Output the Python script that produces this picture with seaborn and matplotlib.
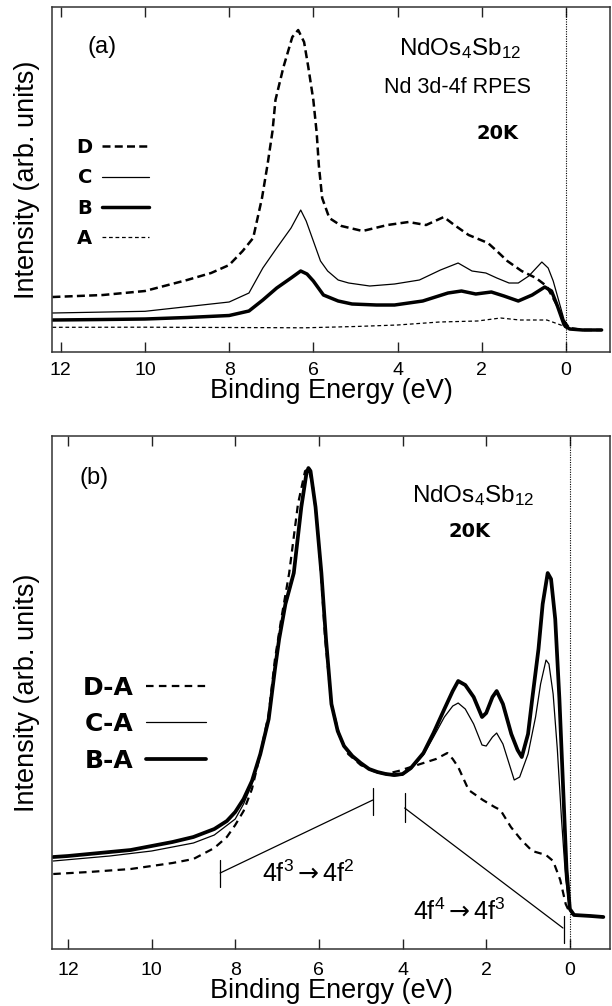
import matplotlib
matplotlib.use("Agg")
import matplotlib.pyplot as plt
from matplotlib.lines import Line2D
import seaborn as sns
import pandas as pd

# ---------------- data: panel (a) ----------------
A_x = [12.2, 10.0, 8.0, 6.2, 5.0, 4.0, 3.0, 2.1, 1.55, 1.1, 0.45, 0.12, -0.04, -0.3, -0.85]
A_y = [24.7, 24.8, 24.5, 24.2, 25.5, 27, 30, 31, 34, 32, 32, 27, 23, 22, 22]

B_x = [12.2, 11, 10, 9, 8, 7.53, 7.2, 6.87, 6.53, 6.3, 6.15, 6.0, 5.76, 5.41, 5.08, 4.5, 4.07, 3.4,
       2.8, 2.48, 2.14, 1.77, 1.47, 1.13, 0.8, 0.5, 0.34, 0.2, 0.04, -0.09, -0.4, -0.85]
B_y = [32, 32.5, 33, 34.5, 36.5, 41, 52, 64, 74, 81, 78, 71, 57, 51, 48, 47, 47, 51,
       59, 61, 58, 60, 56, 51, 57, 65, 61, 46, 27, 23, 22, 22]

C_x = [12.2, 10, 8, 7.53, 7.2, 6.87, 6.53, 6.3, 6.17, 6.0, 5.83, 5.66, 5.41, 5.16, 4.66, 4.07, 3.48,
       2.98, 2.56, 2.23, 1.9, 1.64, 1.35, 1.13, 0.88, 0.57, 0.42, 0.3, 0.12, 0.0, -0.13, -0.4, -0.85]
C_y = [39, 40.7, 50, 59, 84, 104, 124, 142, 131, 111, 91, 81, 72, 69, 66, 68, 72,
       82, 89, 81, 79, 74, 69, 69, 76, 90, 84, 71, 44, 26, 23, 22, 22]

D_x = [12.2, 11.0, 10.0, 9.0, 8.43, 8.0, 7.68, 7.43, 7.22, 7.09, 6.97, 6.9, 6.71, 6.5, 6.36, 6.22,
       6.12, 6.0, 5.92, 5.87, 5.79, 5.62, 5.33, 4.83, 4.24, 3.74, 3.32, 2.9, 2.65, 2.31, 1.85, 1.64,
       1.39, 1.05, 0.71, 0.46, 0.21, 0.04, -0.08, -0.4, -0.85]
D_y = [55, 57, 61, 72, 79, 87, 101, 114, 154, 187, 221, 252, 285, 315, 322, 310,
       285, 252, 219, 187, 154, 134, 126, 121, 127, 130, 127, 135, 127, 117, 109, 101,
       91, 81, 74, 66, 47, 31, 24, 22, 22]

# ---------------- data: panel (b) ----------------
BA_x = [12.35, 12, 11.5, 11, 10.5, 10, 9.5, 9, 8.5, 8.2, 8.0, 7.8, 7.6, 7.4, 7.2, 7.05, 6.95, 6.8,
        6.6, 6.42, 6.3, 6.25, 6.2, 6.08, 5.94, 5.83, 5.7, 5.55, 5.4, 5.2, 5.0, 4.8, 4.6, 4.4, 4.2,
        4.0, 3.8, 3.5, 3.26, 3.0, 2.8, 2.67, 2.5, 2.3, 2.1, 2.0, 1.85, 1.75, 1.6, 1.4, 1.25, 1.15,
        1.0, 0.9, 0.75, 0.65, 0.53, 0.45, 0.35, 0.25, 0.15, 0.08, 0.0, -0.1, -0.5, -0.8]
BA_y = [92, 93, 95, 97, 99, 103, 107, 112, 120, 128, 137, 150, 168, 195, 230, 280, 310, 345,
        376, 442, 475, 481, 478, 442, 376, 310, 245, 218, 203, 193, 186, 180, 177, 175, 174,
        175, 181, 196, 216, 240, 258, 268, 264, 252, 232, 236, 252, 258, 245, 215, 199, 192,
        215, 250, 300, 345, 376, 370, 330, 250, 150, 80, 40, 34, 33, 32]

CA_x = [12.35, 11, 10, 9, 8.5, 8.0, 7.8, 7.6, 7.4, 7.2, 7.05, 6.95, 6.8, 6.6, 6.42, 6.3, 6.25, 6.2,
        6.08, 5.94, 5.83, 5.7, 5.55, 5.4, 5.2, 5.0, 4.6, 4.2, 4.0, 3.8, 3.5, 3.26, 3.0, 2.8, 2.67,
        2.5, 2.3, 2.1, 2.0, 1.85, 1.75, 1.6, 1.45, 1.33, 1.2, 1.0, 0.82, 0.7, 0.57, 0.5, 0.4, 0.3,
        0.2, 0.1, 0.0, -0.1, -0.5, -0.8]
CA_y = [88, 93, 98, 106, 114, 130, 145, 165, 193, 228, 278, 308, 343, 374, 440, 473, 478, 476,
        440, 374, 308, 243, 216, 202, 192, 185, 176, 173, 174, 180, 194, 212, 232, 243, 246,
        240, 225, 204, 203, 212, 216, 205, 185, 169, 172, 195, 232, 265, 289, 285, 255, 200,
        130, 70, 38, 34, 33, 32]

DA_x = [12.35, 11.5, 10.5, 10, 9.5, 9, 8.5, 8.2, 8.0, 7.8, 7.6, 7.4, 7.2, 7.05, 6.9, 6.71, 6.5,
        6.33, 6.25, 6.15, 6.05, 5.95, 5.85, 5.7, 5.5, 5.3, 5.0, 4.7, 4.4, 4.1, 3.8, 3.5, 3.2, 2.93,
        2.8, 2.67, 2.42, 2.08, 1.8, 1.66, 1.41, 1.16, 0.9, 0.57, 0.4, 0.23, 0.1, 0.0, -0.1, -0.5,
        -0.8]
DA_y = [75, 77, 80, 83, 86, 90, 101, 112, 124, 138, 160, 195, 235, 290, 330, 376, 445,
        478, 480, 465, 430, 376, 310, 245, 212, 195, 184, 178, 175, 178, 182, 186, 190, 196,
        190, 182, 159, 149, 142, 139, 122, 109, 98, 94, 88, 69, 45, 36, 34, 33, 32]

xticks = [12, 10, 8, 6, 4, 2, 0]
legend_a = ["D", "C", "B", "A"]
legend_b = ["D-A", "C-A", "B-A"]

# ---------------- style ----------------
sns.set_style("ticks")
plt.rcParams["font.family"] = ["Liberation Sans", "DejaVu Sans"]
plt.rcParams["text.color"] = "black"
plt.rcParams["axes.labelcolor"] = "black"
plt.rcParams["xtick.color"] = "black"
plt.rcParams["xtick.labelcolor"] = "black"
plt.rcParams["mathtext.fontset"] = "custom"
plt.rcParams["mathtext.rm"] = "Liberation Sans"
plt.rcParams["mathtext.it"] = "Liberation Sans:italic"
plt.rcParams["mathtext.bf"] = "Liberation Sans:bold"
plt.rcParams["mathtext.sf"] = "DejaVu Sans"
plt.rcParams["mathtext.default"] = "regular"

fig = plt.figure(figsize=(6.12, 10.06), dpi=100)
ax1 = fig.add_axes([0.08497, 0.6501, 0.9118, 0.3429])
ax2 = fig.add_axes([0.08497, 0.05666, 0.9118, 0.5099])

styles_a = {
    "D": dict(lw=1.8, linestyle=(0, (3.2, 1.7))),
    "C": dict(lw=0.9, linestyle="-"),
    "B": dict(lw=2.5, linestyle="-"),
    "A": dict(lw=0.9, linestyle=(0, (3.0, 2.2))),
}
styles_b = {
    "D-A": dict(lw=1.6, linestyle=(0, (3.4, 2.4))),
    "C-A": dict(lw=0.9, linestyle="-"),
    "B-A": dict(lw=2.7, linestyle="-"),
}

series_a = {"A": (A_x, A_y), "B": (B_x, B_y), "C": (C_x, C_y), "D": (D_x, D_y)}
series_b = {"D-A": (DA_x, DA_y), "C-A": (CA_x, CA_y), "B-A": (BA_x, BA_y)}

for name, (xs, ys) in series_a.items():
    df = pd.DataFrame({"E": xs, "I": ys})
    sns.lineplot(data=df, x="E", y="I", ax=ax1, color="black", estimator=None,
                 sort=False, **styles_a[name])
for name, (xs, ys) in series_b.items():
    df = pd.DataFrame({"E": xs, "I": ys})
    sns.lineplot(data=df, x="E", y="I", ax=ax2, color="black", estimator=None,
                 sort=False, **styles_b[name])

for ax, xl, yl, pad in [(ax1, (12.21, -1.05), (0, 345), 7.5), (ax2, (12.38, -0.96), (0, 513), 9.5)]:
    ax.set_xlim(*xl)
    ax.set_ylim(*yl)
    ax.set_xticks(xticks)
    ax.set_xticklabels([str(t) for t in xticks])
    ax.set_yticks([])
    ax.tick_params(axis="x", direction="in", top=True, bottom=True, length=7.5, width=1.0,
                   labelsize=14, pad=pad, color="#222222", labelcolor="black")
    for sp in ax.spines.values():
        sp.set_visible(True)
        sp.set_linewidth(1.1)
        sp.set_color("#333333")
    ax.axvline(0, color="black", lw=0.8, linestyle=(0, (1, 1.2)))
    ax.set_xlabel("Binding Energy (eV)", fontsize=19.5, labelpad=-1, color="black")
    ax.set_ylabel("Intensity (arb. units)", fontsize=19.5, labelpad=9, color="black")

# legends
h_a = [Line2D([], [], color="black", **styles_a[k]) for k in legend_a]
ax1.legend(h_a, legend_a, markerfirst=False, frameon=False, loc="upper left",
           bbox_to_anchor=(0.043, 0.62), borderaxespad=0, borderpad=0,
           handlelength=2.45, handletextpad=0.5, labelspacing=0.58, labelcolor="black",
           prop=dict(family="DejaVu Sans", weight="bold", size=14))
h_b = [Line2D([], [], color="black", **styles_b[k]) for k in legend_b]
ax2.legend(h_b, legend_b, markerfirst=False, frameon=False, loc="upper left",
           bbox_to_anchor=(0.0556, 0.533), borderaxespad=0, borderpad=0,
           handlelength=2.4, handletextpad=0.48, labelspacing=0.5, labelcolor="black",
           prop=dict(family="DejaVu Sans", weight="bold", size=18))

# panel (a) texts
ax1.text(0.0896, 0.884, "(a)", transform=ax1.transAxes, ha="center", va="center", fontsize=17)
ax1.text(0.731, 0.861, "NdOs$_4$Sb$_{12}$", transform=ax1.transAxes, ha="center",
         va="baseline", fontsize=17.5)
ax1.text(0.726, 0.751, "Nd 3d-4f RPES", transform=ax1.transAxes, ha="center",
         va="baseline", fontsize=15.5)
ax1.text(0.799, 0.617, "20K", transform=ax1.transAxes, ha="center", va="baseline",
         fontsize=14, family="DejaVu Sans", weight="bold")

# panel (b) texts
ax2.text(0.075, 0.918, "(b)", transform=ax2.transAxes, ha="center", va="center", fontsize=17)
ax2.text(0.754, 0.871, "NdOs$_4$Sb$_{12}$", transform=ax2.transAxes, ha="center",
         va="baseline", fontsize=17.5)
ax2.text(0.749, 0.803, "20K", transform=ax2.transAxes, ha="center", va="baseline",
         fontsize=14, family="DejaVu Sans", weight="bold")

# transition brackets (panel b)
lk = dict(color="black", lw=0.9)
ax2.plot([4.71, 8.36], [149, 76], **lk)
ax2.plot([4.71, 4.71], [134, 161], **lk)
ax2.plot([8.36, 8.36], [62, 89], **lk)
ax2.plot([3.95, 0.165], [141, 21], **lk)
ax2.plot([3.95, 3.95], [127, 156], **lk)
ax2.plot([0.15, 0.15], [6, 33], **lk)
ax2.text(6.24, 67, r"4f$^3$$\mathsf{\rightarrow}$4f$^2$", ha="center", va="baseline", fontsize=18)
ax2.text(2.63, 29, r"4f$^4$$\mathsf{\rightarrow}$4f$^3$", ha="center", va="baseline", fontsize=18)

fig.savefig("out.png", dpi=100)
